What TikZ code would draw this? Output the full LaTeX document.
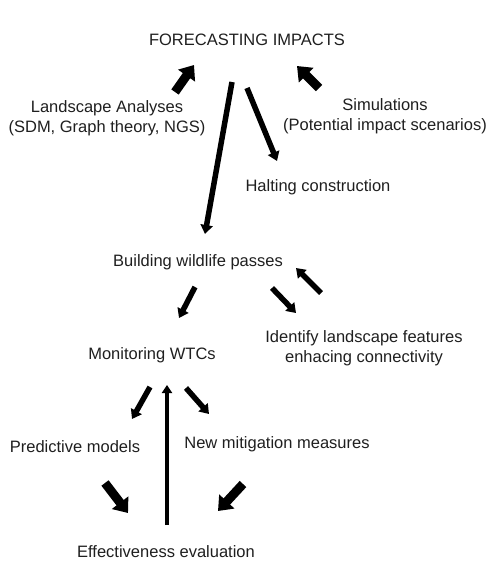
\documentclass[tikz,border=0pt]{standalone}
\usepackage{fontspec}
\setmainfont{Liberation Sans}
\usetikzlibrary{arrows.meta}
\begin{document}
\begin{tikzpicture}[x=1pt,y=-1pt,
  lbl/.style={font=\fontsize{16.5}{20}\selectfont, align=center, inner sep=0pt, text=black!88},
  bigarrow/.style={line width=9pt, -{Triangle[width=20pt,length=13pt]}},
  midarrow/.style={line width=5.5pt, -{Triangle[width=12pt,length=9pt]}},
  thinarrow/.style={line width=4.5pt, -{Triangle[width=10pt,length=8pt]}}]
\useasboundingbox (0,0) rectangle (488,570);
% texts
\node[lbl] (fc) at (247,40) {FORECASTING IMPACTS};
\node[lbl] (la) at (107,118.5) {Landscape Analyses\\(SDM, Graph theory, NGS)};
\node[lbl] (sim) at (385,116.5) {Simulations\\(Potential impact scenarios)};
\node[lbl] (halt) at (318,187) {Halting construction};
\node[lbl] (build) at (198,262) {Building wildlife passes};
\node[lbl] (mon) at (152,355) {Monitoring WTCs};
\node[lbl] (ident) at (364,348.5) {Identify landscape features\\enhacing connectivity};
\node[lbl] (pred) at (75,447) {Predictive models};
\node[lbl] (newm) at (277,444) {New mitigation measures};
\node[lbl] (eff) at (166,552) {Effectiveness evaluation};
% arrow end points
\coordinate (a1s) at (175,92);  \coordinate (a1e) at (194,65);
\coordinate (a2s) at (319,88);  \coordinate (a2e) at (297,66);
\coordinate (a3s) at (232,82);  \coordinate (a3e) at (205,234);
\coordinate (a4s) at (247,88);  \coordinate (a4e) at (277,161);
\coordinate (a5s) at (195,287); \coordinate (a5e) at (179,318);
\coordinate (a6s) at (272,288); \coordinate (a6e) at (296,313);
\coordinate (a7s) at (321,293); \coordinate (a7e) at (296,268);
\coordinate (a8s) at (150,387); \coordinate (a8e) at (132,419);
\coordinate (a9s) at (167,525); \coordinate (a9e) at (167,385);
\coordinate (a10s) at (186,388); \coordinate (a10e) at (209,414);
\coordinate (a11s) at (105,483); \coordinate (a11e) at (128,513);
\coordinate (a12s) at (243,484); \coordinate (a12e) at (218,511);
% arrows
\draw[bigarrow] (a1s) -- (a1e);
\draw[bigarrow] (a2s) -- (a2e);
\draw[midarrow] (a3s) -- (a3e);
\draw[midarrow] (a4s) -- (a4e);
\draw[midarrow] (a5s) -- (a5e);
\draw[midarrow] (a6s) -- (a6e);
\draw[midarrow] (a7s) -- (a7e);
\draw[midarrow] (a8s) -- (a8e);
\draw[thinarrow] (a9s) -- (a9e);
\draw[midarrow] (a10s) -- (a10e);
\draw[bigarrow] (a11s) -- (a11e);
\draw[bigarrow] (a12s) -- (a12e);
\end{tikzpicture}
\end{document}
